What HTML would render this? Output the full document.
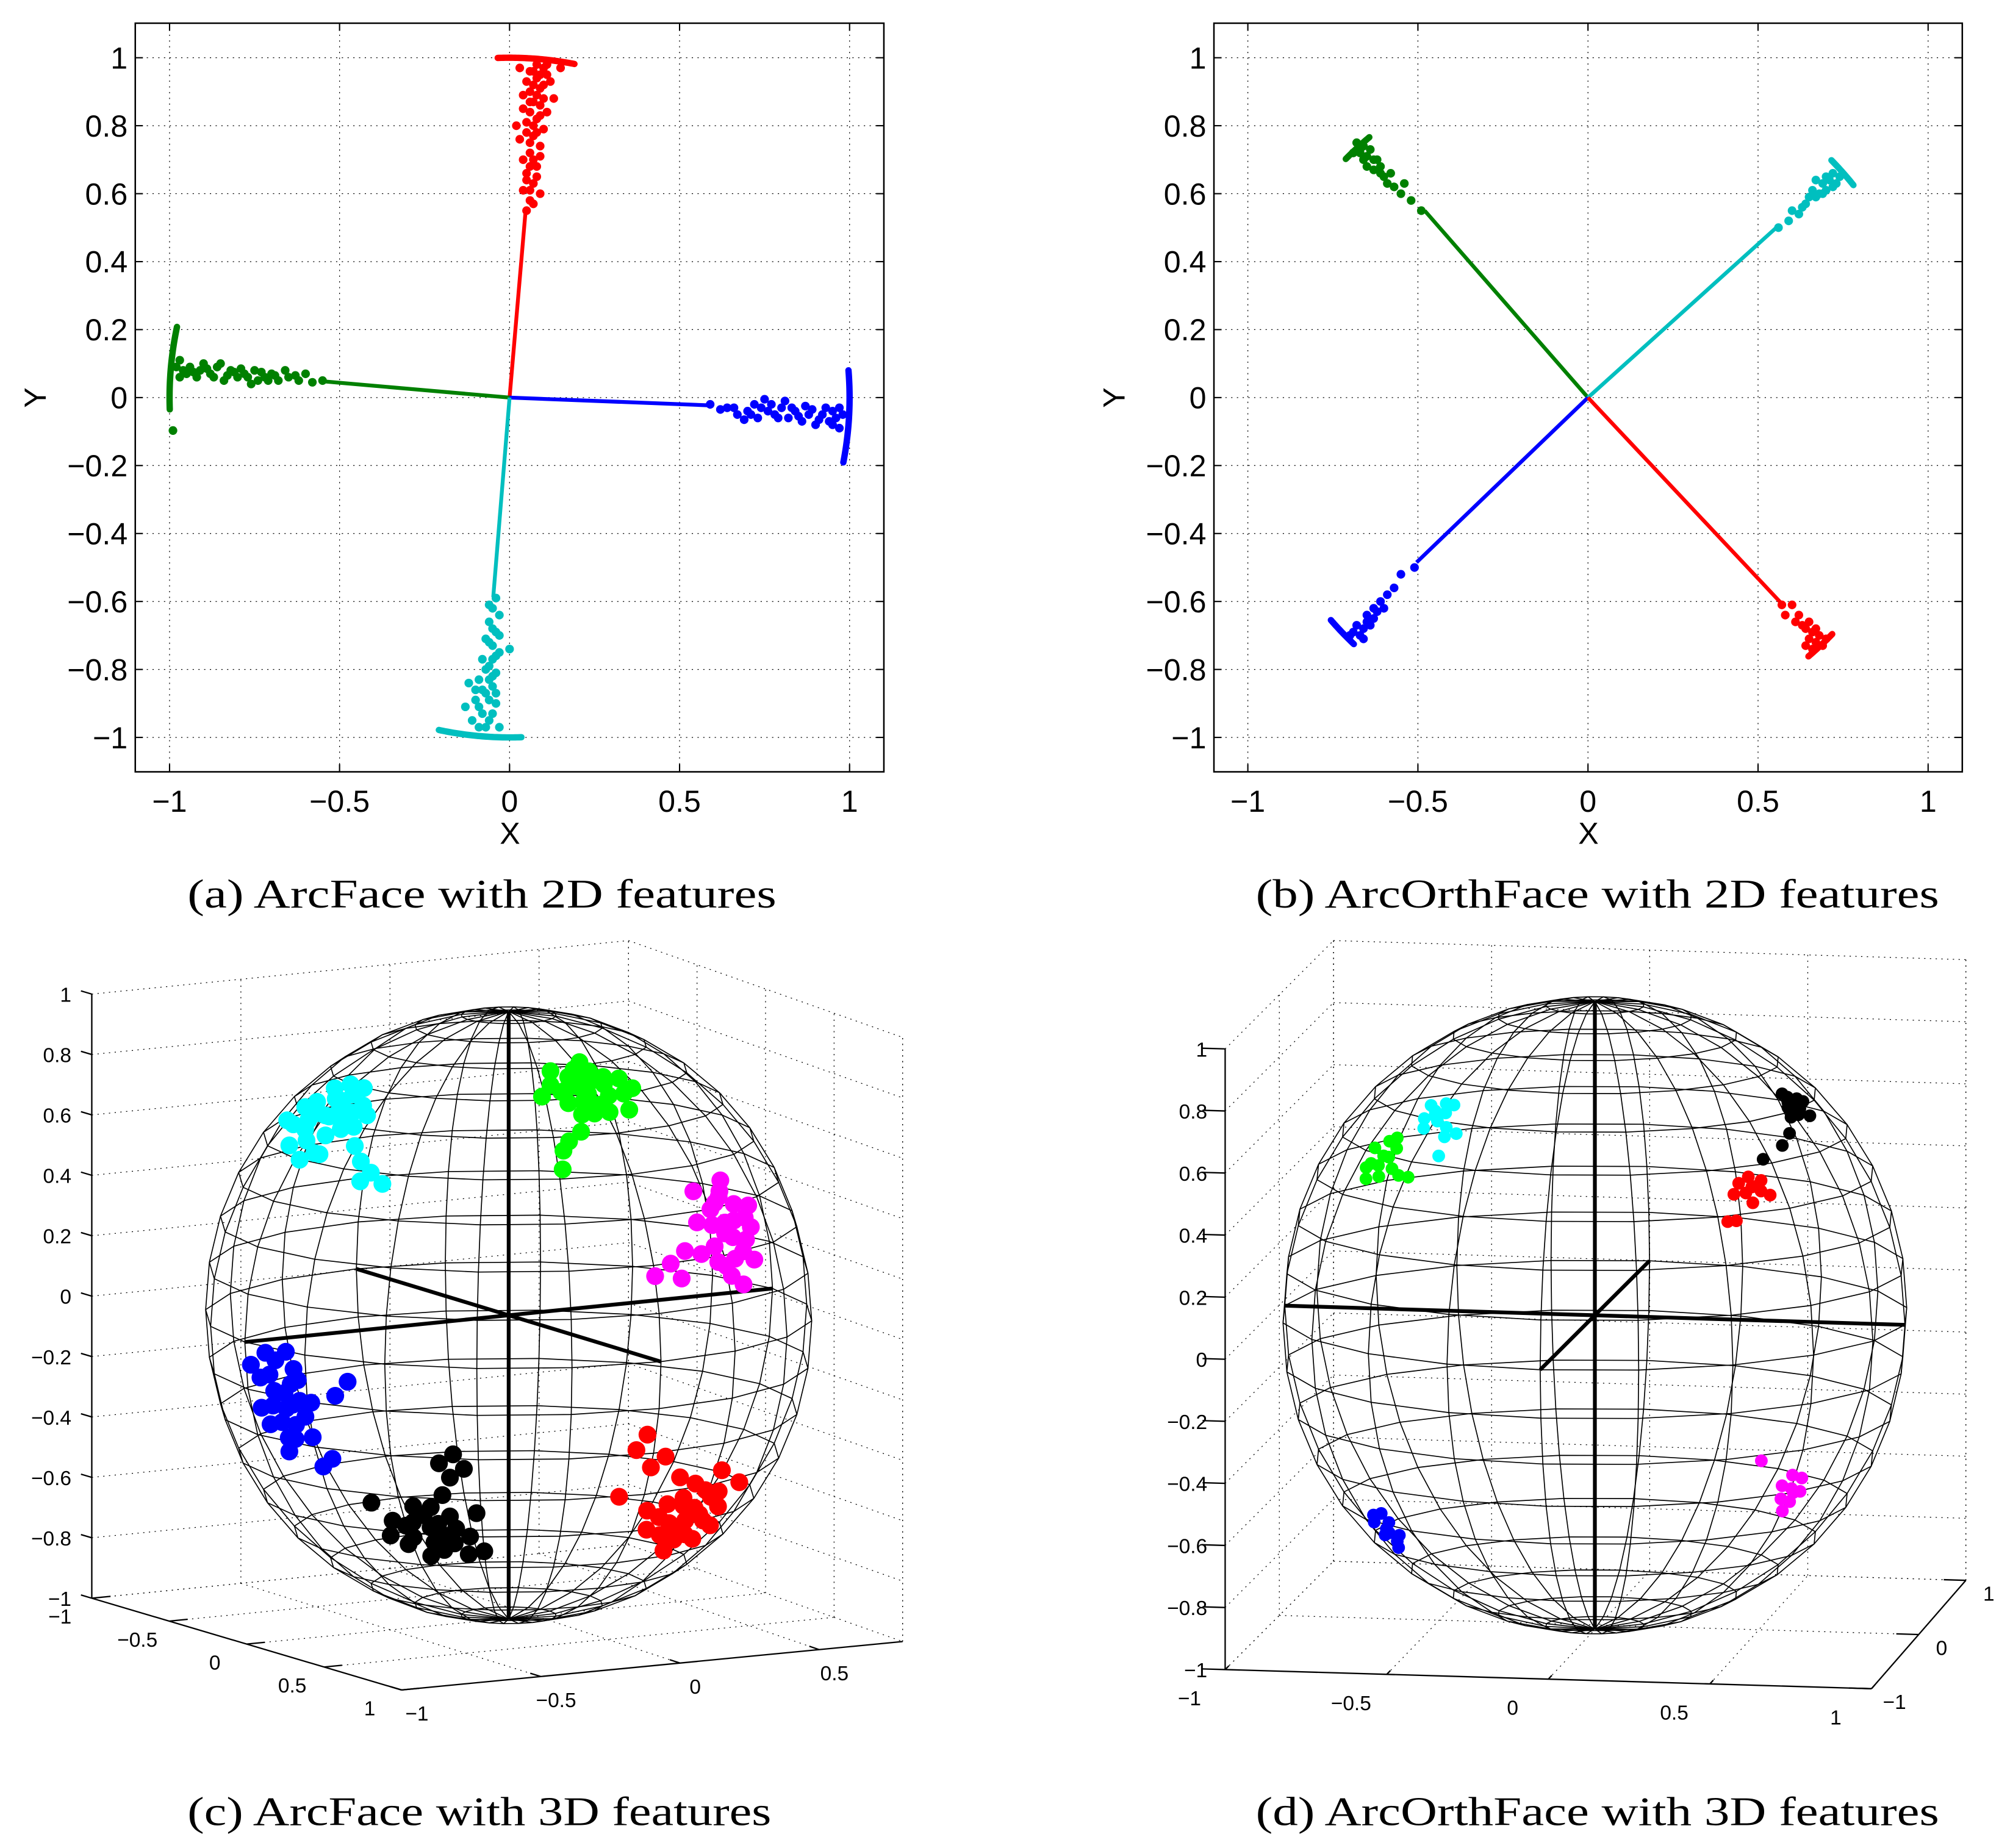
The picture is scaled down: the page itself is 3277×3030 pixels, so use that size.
<!DOCTYPE html>
<html><head><meta charset="utf-8"><style>
html,body{margin:0;padding:0;background:#fff;}
svg{display:block;}
text{font-family:"Liberation Sans",Arial,sans-serif;}
.cap{font-family:"Liberation Serif","Times New Roman",serif;font-size:32px;}
</style></head><body>
<svg id="fig" width="3277" height="3030" viewBox="0 0 1568 1450" preserveAspectRatio="none" xmlns="http://www.w3.org/2000/svg">
<rect x="0" y="0" width="1568" height="1450" fill="#fff"/>
<g id="pa"></g>
<g id="pb"></g>
<g id="pc"></g>
<g id="pd"></g>
<text class="cap" x="147" y="712" textLength="462" lengthAdjust="spacingAndGlyphs">(a) ArcFace with 2D features</text>
<text class="cap" x="985" y="712" textLength="536" lengthAdjust="spacingAndGlyphs">(b) ArcOrthFace with 2D features</text>
<text class="cap" x="147" y="1432" textLength="458" lengthAdjust="spacingAndGlyphs">(c) ArcFace with 3D features</text>
<text class="cap" x="985" y="1432" textLength="536" lengthAdjust="spacingAndGlyphs">(d) ArcOrthFace with 3D features</text>
<text x="400" y="662" font-size="24" text-anchor="middle">X</text>
<text x="1246" y="662" font-size="24" text-anchor="middle">X</text>
<text x="0" y="0" font-size="24" text-anchor="middle" transform="translate(36,312) rotate(-90)">Y</text>
<text x="0" y="0" font-size="24" text-anchor="middle" transform="translate(882,312) rotate(-90)">Y</text>
</svg>
<script>
// ---------- 2D data ----------
const xTicks2D=[-1,-0.5,0,0.5,1];
const yTicks2D=[-1,-0.8,-0.6,-0.4,-0.2,0,0.2,0.4,0.6,0.8,1];
const armColorsA=['#ff0000','#008000','#0000ff','#00bfbf'];
const armEndXA=[0.047,-0.54,0.59,-0.048];
const armEndYA=[0.548,0.047,-0.023,-0.587];
const arcStartA=[79,168,-11,258];
const arcEndA=[92,182,4.6,272];
const cloudA_red=[[.05,.55],[.06,.58],[.04,.61],[.07,.63],[.05,.66],[.08,.68],[.04,.70],[.06,.72],[.09,.74],[.03,.76],[.07,.77],[.10,.79],[.05,.81],[.08,.82],[.11,.84],[.04,.85],[.07,.87],[.10,.88],[.06,.90],[.09,.91],[.13,.88],[.05,.93],[.08,.94],[.11,.95],[.07,.96],[.03,.97],[.10,.97],[.15,.97],[.09,.60],[.02,.80],[.06,.84],[.08,.78],[.06,.75],[.09,.86],[.07,.70],[.05,.64],[.08,.65],[.06,.68],[.09,.71],[.05,.78],[.07,.80],[.09,.83],[.06,.87],[.08,.89],[.10,.92],[.07,.92],[.09,.95],[.12,.93],[.06,.96],[.08,.98],[.11,.98],[.04,.89],[.06,.61],[.07,.57]];
const cloudA_green=[[-.55,.05],[-.58,.045],[-.62,.05],[-.60,.07],[-.65,.06],[-.68,.05],[-.70,.07],[-.72,.06],[-.75,.08],[-.74,.05],[-.78,.07],[-.80,.06],[-.82,.08],[-.84,.05],[-.86,.09],[-.88,.07],[-.90,.10],[-.92,.06],[-.94,.09],[-.96,.08],[-.97,.11],[-.66,.08],[-.76,.04],[-.85,.10],[-.99,-.097],[-.63,.065],[-.91,.08],[-.69,.065],[-.73,.075],[-.77,.06],[-.81,.075],[-.83,.065],[-.87,.06],[-.89,.085],[-.93,.075],[-.95,.07],[-.97,.06],[-.98,.09],[-.79,.085],[-.71,.05]];
const cloudA_blue=[[.59,-.02],[.62,-.035],[.64,-.03],[.67,-.05],[.70,-.04],[.72,-.02],[.73,-.06],[.76,-.04],[.78,-.05],[.80,-.03],[.82,-.06],[.84,-.04],[.86,-.07],[.88,-.05],[.90,-.08],[.92,-.05],[.94,-.07],[.96,-.06],[.97,-.09],[.75,-.005],[.81,-.01],[.69,-.065],[.87,-.025],[.95,-.04],[.91,-.065],[.74,-.03],[.77,-.02],[.79,-.06],[.83,-.03],[.85,-.055],[.89,-.035],[.93,-.03],[.95,-.08],[.98,-.05],[.97,-.03],[.71,-.05],[.66,-.03]];
const cloudA_cyan=[[-.04,-.59],[-.05,-.62],[-.03,-.64],[-.06,-.66],[-.04,-.69],[-.07,-.71],[-.05,-.73],[-.03,-.75],[-.08,-.77],[-.06,-.79],[-.04,-.81],[-.09,-.83],[-.05,-.85],[-.12,-.84],[-.07,-.87],[-.10,-.89],[-.04,-.90],[-.13,-.91],[-.08,-.93],[-.06,-.95],[-.11,-.95],[-.03,-.97],[0,-.74],[-.09,-.97],[-.06,-.83],[-.05,-.77],[-.05,-.68],[-.06,-.72],[-.04,-.76],[-.07,-.80],[-.05,-.82],[-.08,-.86],[-.06,-.89],[-.09,-.91],[-.05,-.93],[-.07,-.97],[-.10,-.86],[-.04,-.87],[-.03,-.70],[-.06,-.61]];
const armColorsB=['#008000','#00bfbf','#0000ff','#ff0000'];
const armEndXB=[-0.48,0.558,-0.504,0.572];
const armEndYB=[0.55,0.504,-0.485,-0.609];
const arcStartB=[130,38.7,220.9,-49.6];
const arcEndB=[135.4,44.3,226.5,-44.1];
const cloudB_green=[[-.49,.55],[-.52,.58],[-.55,.60],[-.54,.63],[-.57,.62],[-.58,.66],[-.60,.65],[-.61,.68],[-.63,.67],[-.62,.70],[-.65,.71],[-.64,.73],[-.66,.74],[-.67,.72],[-.68,.75],[-.66,.70],[-.59,.63],[-.63,.70],[-.65,.68],[-.67,.73],[-.61,.66],[-.69,.72]];
const cloudB_cyan=[[.56,.50],[.59,.52],[.60,.55],[.62,.54],[.64,.57],[.65,.59],[.66,.61],[.68,.60],[.69,.63],[.70,.61],[.71,.64],[.72,.66],[.67,.64],[.73,.63],[.63,.56],[.67,.59],[.70,.65],[.74,.65],[.69,.60],[.72,.62]];
const cloudB_blue=[[-.51,-.50],[-.55,-.52],[-.57,-.56],[-.59,-.58],[-.61,-.60],[-.62,-.63],[-.63,-.65],[-.65,-.64],[-.64,-.67],[-.66,-.68],[-.68,-.67],[-.67,-.70],[-.69,-.69],[-.60,-.62],[-.65,-.66],[-.70,-.70],[-.66,-.71],[-.63,-.62]];
const cloudB_red=[[.57,-.61],[.60,-.61],[.58,-.64],[.62,-.64],[.63,-.67],[.64,-.68],[.66,-.69],[.65,-.71],[.67,-.72],[.68,-.70],[.64,-.73],[.69,-.73],[.61,-.66],[.66,-.74],[.70,-.71],[.65,-.66],[.67,-.68]];

// ---------- 3D data (lon in degrees, lat in degrees) ----------
const zTicks3D=[-1,-0.8,-0.6,-0.4,-0.2,0,0.2,0.4,0.6,0.8,1];
const sTicksC=[-1,-0.5,0,0.5,1];
const tTicksC=[-1,-0.5,0,0.5];
const sTicksD=[-1,-0.5,0,0.5,1];
const tTicksD=[-1,0,1];
const clusterC_cyan=[[148,46],[140,48],[156,44],[152,50],[144,42],[160,48],[136,45],[150,40],[146,52],[158,52],[162,42],[142,38],[154,46],[138,50],[164,46],[148,36],[132,41],[128,38],[124,36],[120,34],[126,34],[156,38],[168,42],[144,54],[152,54],[134,48],[150,46],[142,46],[146,48],[154,42],[158,46],[140,44],[148,50],[144,38]];
const clusterC_green=[[63,55],[55,57],[71,53],[67,60],[59,50],[75,58],[50,54],[63,62],[68,50],[57,61],[79,55],[47,58],[61,52],[73,62],[52,50],[65,57],[70,46],[77,38],[76,42],[74,44],[45,55],[58,64],[66,53],[60,58],[64,50],[56,54],[69,57],[62,59],[72,56],[53,59]];
const clusterC_magenta=[[39,24],[34,27],[44,20],[37,30],[42,16],[31,22],[47,25],[36,18],[40,28],[33,16],[45,31],[29,26],[38,21],[43,24],[35,32],[48,19],[41,14],[52,20],[56,18],[60,16],[54,15],[38,12],[40,22],[36,24],[34,20],[42,27],[38,29],[32,24],[44,17],[39,17]];
const clusterC_blue=[[138,-8],[134,-5],[142,-11],[140,-2],[136,-14],[145,-6],[131,-9],[139,-17],[143,-1],[133,-12],[146,-12],[137,0],[141,-8],[135,-3],[144,-15],[132,-16],[122,-4],[125,-7],[128,-20],[131,-22],[140,-20],[148,-4],[138,-11],[136,-6],[134,-9],[140,-14],[142,-5],[137,-17],[136,-10]];
const clusterC_black=[[108,-34],[103,-31],[113,-37],[106,-40],[111,-29],[99,-36],[117,-33],[104,-26],[110,-42],[100,-41],[115,-39],[97,-30],[109,-31],[105,-36],[119,-37],[102,-22],[101,-17],[99,-20],[104,-19],[121,-29],[96,-40],[108,-38],[112,-33],[107,-29],[102,-34],[114,-34],[106,-33],[103,-38]];
const clusterC_red=[[44,-32],[38,-29],[50,-35],[42,-39],[47,-26],[35,-33],[53,-30],[40,-24],[45,-40],[33,-38],[56,-36],[49,-29],[41,-34],[37,-41],[52,-24],[31,-28],[58,-31],[46,-43],[60,-21],[64,-17],[62,-14],[57,-19],[66,-27],[45,-35],[48,-31],[40,-30],[43,-28],[51,-38],[38,-36],[47,-37],[54,-33]];
const clusterD_cyan=[[137,46],[134,47],[140,45],[136,49],[131,44],[141,48],[138,43],[133,49],[130,42],[127,43],[129,38],[135,45],[138,47]];
const clusterD_green=[[146,36],[143,38],[149,34],[145,40],[148,31],[141,34],[151,37],[144,32],[147,39],[138,33],[135,33],[150,33],[146,34],[144,36]];
const clusterD_black=[[23,45],[20,47],[26,44],[24,48],[21,43],[28,46],[18,46],[30,44],[35,41],[40,39],[48,37],[25,49],[22,46],[26,47]];
const clusterD_red=[[53,32],[51,33],[56,31],[54,34],[50,30],[57,33],[52,31],[55,29],[59,31],[62,26],[60,26],[54,32]];
const clusterD_magenta=[[46,-26],[44,-24],[48,-28],[45,-29],[47,-23],[43,-27],[49,-25],[46,-31],[56,-19],[45,-27]];
const clusterD_blue=[[146,-37],[143,-35],[149,-39],[145,-40],[148,-34],[142,-38],[150,-36],[144,-33],[147,-42],[146,-38]];

const NS='http://www.w3.org/2000/svg';
function mk(parent,tag,attrs){const e=document.createElementNS(NS,tag);for(const k in attrs)e.setAttribute(k,attrs[k]);parent.appendChild(e);return e;}
function fmt(v){const s=(Math.round(v*10)/10).toString();return s.replace('-','\u2212');}

// ---------- 2D panel ----------
function panel2D(g,ax,arms){
  const sx=v=>ax.xm1+(v+1)/2*(ax.xp1-ax.xm1);
  const sy=v=>ax.ym1+(v+1)/2*(ax.yp1-ax.ym1);
  const bx=ax.box;
  const grid=mk(g,'g',{stroke:'#000','stroke-width':0.6,'stroke-dasharray':'1 3.5'});
  
  
  xTicks2D.forEach(v=>{const l=mk(grid,'line',{x1:sx(v),x2:sx(v),y1:bx[1],y2:bx[3]});
    
    });
  yTicks2D.forEach(v=>{const l=mk(grid,'line',{x1:bx[0],x2:bx[2],y1:sy(v),y2:sy(v)});
    
    });
  const frame=mk(g,'rect',{x:bx[0],y:bx[1],width:bx[2]-bx[0],height:bx[3]-bx[1],fill:'none',stroke:'#000','stroke-width':1.2});
  
  
  xTicks2D.forEach(v=>{
    const t1=mk(g,'line',{x1:sx(v),x2:sx(v),y1:bx[3],y2:bx[3]-6,stroke:'#000','stroke-width':1});
    
    
    const t2=mk(g,'line',{x1:sx(v),x2:sx(v),y1:bx[1],y2:bx[1]+6,stroke:'#000','stroke-width':1});
    
    
    const tx=mk(g,'text',{x:sx(v),y:637,'font-size':24,'text-anchor':'middle'});
    tx.textContent=fmt(v);
    
    
  });
  yTicks2D.forEach(v=>{
    const t1=mk(g,'line',{x1:bx[0],x2:bx[0]+6,y1:sy(v),y2:sy(v),stroke:'#000','stroke-width':1});
    
    
    const t2=mk(g,'line',{x1:bx[2],x2:bx[2]-6,y1:sy(v),y2:sy(v),stroke:'#000','stroke-width':1});
    
    
    const tx=mk(g,'text',{x:bx[0]-6,y:sy(v)+8.5,'font-size':24,'text-anchor':'end'});
    tx.textContent=fmt(v);
    
    
  });
  arms.forEach(a=>{
    const grp=mk(g,'g',{fill:a.color,stroke:a.color});
    
    
    const ln=mk(grp,'line',{x1:sx(0),y1:sy(0),x2:sx(a.ex),y2:sy(a.ey),'stroke-width':3});
    
    
    let d='';
    for(let k=0;k<=40;k++){const ang=(a.a0+(a.a1-a.a0)*k/40)*Math.PI/180;
      d+=(k?'L':'M')+sx(Math.cos(ang)).toFixed(2)+' '+sy(Math.sin(ang)).toFixed(2);}
    const arc=mk(grp,'path',{d:d,fill:'none','stroke-width':5,'stroke-linecap':'round'});
    
    
    a.pts.forEach(p=>{const c=mk(grp,'circle',{cx:sx(p[0]),cy:sy(p[1]),r:3.4,stroke:'none'});
      
      });
  });
}
panel2D(document.getElementById('pa'),{xm1:133,xp1:666.4,ym1:578.6,yp1:45.3,box:[106.1,18.2,693.3,605.6]},
 [0,1,2,3].map(i=>({name:['red','green','blue','cyan'][i],color:armColorsA[i],ex:armEndXA[i],ey:armEndYA[i],a0:arcStartA[i],a1:arcEndA[i],pts:[cloudA_red,cloudA_green,cloudA_blue,cloudA_cyan][i]})));
panel2D(document.getElementById('pb'),{xm1:978.8,xp1:1512.4,ym1:578.6,yp1:45.3,box:[952.2,18.2,1539.2,605.6]},
 [0,1,2,3].map(i=>({name:['green','cyan','blue','red'][i],color:armColorsB[i],ex:armEndXB[i],ey:armEndYB[i],a0:arcStartB[i],a1:arcEndB[i],pts:[cloudB_green,cloudB_cyan,cloudB_blue,cloudB_red][i]})));

// ---------- 3D panel ----------
function panel3D(g,box,view,clusters,dotR){
  const L=box.L,F=box.F,R=box.R,B=box.B,H=box.H;
  const P=(s,t)=>[L[0]+s*(F[0]-L[0])+t*(B[0]-L[0])+s*t*(R[0]-F[0]-B[0]+L[0]),
                  L[1]+s*(F[1]-L[1])+t*(B[1]-L[1])+s*t*(R[1]-F[1]-B[1]+L[1])];
  const sOf=v=>(v-box.sMin)/(box.sMax-box.sMin);
  const tOf=v=>(v-box.tMin)/(box.tMax-box.tMin);
  const zOf=v=>(v+1)/2*H;
  const grid=mk(g,'g',{stroke:'#000','stroke-width':0.6,'stroke-dasharray':'1 3.5',fill:'none'});
  
  
  function gl(a,b,name){const l=mk(grid,'line',{x1:a[0],y1:a[1],x2:b[0],y2:b[1]});
    
    }
  box.sT.forEach(v=>{const s=sOf(v);gl(P(s,0),P(s,1),'floor-grid-line');
    const q=P(s,1);gl(q,[q[0],q[1]-H],'wall-grid-line');});
  box.tT.forEach(v=>{const t=tOf(v);gl(P(0,t),P(1,t),'floor-grid-line');
    const q=P(0,t);gl(q,[q[0],q[1]-H],'wall-grid-line');});
  [P(0,1),P(1,1)].forEach(q=>gl(q,[q[0],q[1]-H],'wall-edge-line'));
  zTicks3D.forEach(v=>{const z=zOf(v);const a=P(0,0),b=P(0,1),c=P(1,1);
    gl([a[0],a[1]-z],[b[0],b[1]-z],'wall-grid-line');gl([b[0],b[1]-z],[c[0],c[1]-z],'wall-grid-line');});
  const axg=mk(g,'g',{stroke:'#000','stroke-width':1.1,fill:'none'});
  
  
  const zl=mk(axg,'line',{x1:L[0],y1:L[1],x2:L[0],y2:L[1]-H});
  
  
  const sl=mk(axg,'line',{x1:L[0],y1:L[1],x2:F[0],y2:F[1]});
  
  
  const tl=mk(axg,'line',{x1:F[0],y1:F[1],x2:R[0],y2:R[1]});
  
  
  const dF=[F[0]-L[0],F[1]-L[1]];
  zTicks3D.forEach(v=>{const y=L[1]-zOf(v);
    const tk=mk(axg,'line',{x1:L[0],y1:y,x2:L[0]-0.035*dF[0],y2:y-0.035*dF[1]});
    
    
    const tx=mk(g,'text',{x:L[0]-box.zOff,y:y+6,'font-size':16,'text-anchor':'end'});
    tx.textContent=fmt(v);
    
    });
  box.sT.forEach(v=>{const p=P(sOf(v),0);const q=P(sOf(v),0.035);
    const tk=mk(axg,'line',{x1:p[0],y1:p[1],x2:q[0],y2:q[1]});
    
    
    const tx=mk(g,'text',{x:p[0]+box.sLab[0],y:p[1]+box.sLab[1]+6,'font-size':16,'text-anchor':'middle'});
    tx.textContent=fmt(v);
    
    });
  box.tT.forEach(v=>{const p=P(1,tOf(v));const q=P(0.965,tOf(v));
    const tk=mk(axg,'line',{x1:p[0],y1:p[1],x2:q[0],y2:q[1]});
    
    
    const tx=mk(g,'text',{x:p[0]+box.tLab[0],y:p[1]+box.tLab[1]+6,'font-size':16,'text-anchor':'middle'});
    tx.textContent=fmt(v);
    
    });
  const rad=Math.PI/180,e=view.el*rad;
  const pr=(lon,lat)=>{const a=lon*rad,l=lat*rad;
    return [view.cx+view.rx*Math.cos(l)*Math.cos(a), view.cy-view.ry*(Math.sin(l)*Math.cos(e)-Math.cos(l)*Math.sin(a)*Math.sin(e))];};
  const mesh=mk(g,'g',{stroke:'#000','stroke-width':0.8,fill:'none','stroke-linejoin':'round'});
  
  
  for(let k=0;k<20;k++){const lon=view.lon0+18*k;let d='';
    for(let j=0;j<=20;j++){const p=pr(lon,-90+9*j);d+=(j?'L':'M')+p[0].toFixed(2)+' '+p[1].toFixed(2);}
    const m=mk(mesh,'path',{d:d});
    
    }
  for(let j=1;j<20;j++){const lat=-90+9*j;let d='';
    for(let k=0;k<=20;k++){const p=pr(view.lon0+18*k,lat);d+=(k?'L':'M')+p[0].toFixed(2)+' '+p[1].toFixed(2);}
    const m=mk(mesh,'path',{d:d+'Z'});
    
    }
  const thick=mk(g,'g',{stroke:'#000','stroke-width':3,fill:'none'});
  
  
  const pN=pr(0,90),pS=pr(0,-90);
  const a1=mk(thick,'line',{x1:pN[0],y1:pN[1],x2:pS[0],y2:pS[1]});
  
  
  [view.lon0,view.lon0+90].forEach(lon=>{const p=pr(lon,0),q=pr(lon+180,0);
    const a=mk(thick,'line',{x1:p[0],y1:p[1],x2:q[0],y2:q[1]});
    
    });
  clusters.forEach(c=>{const grp=mk(g,'g',{fill:c.color});
    
    
    c.pts.forEach(q=>{const p=pr(q[0],q[1]);
      const d=mk(grp,'circle',{cx:p[0],cy:p[1],r:dotR});
      
      });});
}
panel3D(document.getElementById('pc'),
 {L:[72,1254],F:[315,1326],R:[708,1288],B:[493,1212],H:474,sMin:-1,sMax:1,tMin:-1,tMax:0.8,sT:sTicksC,tT:tTicksC,zOff:16,sLab:[-25,14],tLab:[12,18]},
 {cx:399,cy:1032,rx:239,ry:242,el:10,lon0:60},
 [{name:'cyan',color:'#00ffff',pts:clusterC_cyan},{name:'green',color:'#00ff00',pts:clusterC_green},{name:'magenta',color:'#ff00ff',pts:clusterC_magenta},
  {name:'blue',color:'#0000ff',pts:clusterC_blue},{name:'black',color:'#000000',pts:clusterC_black},{name:'red',color:'#ff0000',pts:clusterC_red}],7);
panel3D(document.getElementById('pd'),
 {L:[961,1310],F:[1468,1325],R:[1542,1240],B:[1046,1225],H:487,sMin:-1,sMax:1,tMin:-1,tMax:1,sT:sTicksD,tT:tTicksD,zOff:14,sLab:[-28,22],tLab:[18,10]},
 {cx:1251,cy:1032,rx:247,ry:250,el:10,lon0:10},
 [{name:'cyan',color:'#00ffff',pts:clusterD_cyan},{name:'green',color:'#00ff00',pts:clusterD_green},{name:'black',color:'#000000',pts:clusterD_black},
  {name:'red',color:'#ff0000',pts:clusterD_red},{name:'magenta',color:'#ff00ff',pts:clusterD_magenta},{name:'blue',color:'#0000ff',pts:clusterD_blue}],5);
</script>
</body></html>
